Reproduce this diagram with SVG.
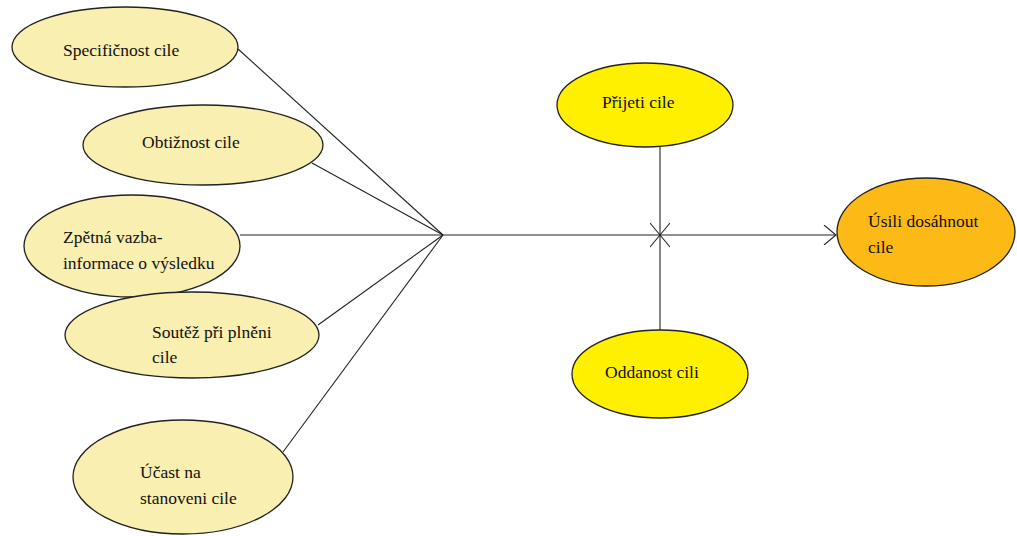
<svg xmlns="http://www.w3.org/2000/svg" width="1017" height="536" viewBox="0 0 1017 536">
<style>
.n ellipse{stroke:#222;stroke-width:1.3}
.pale{fill:#f9efb0}
.yel{fill:#fff000}
.org{fill:#fdb916}
text{font-family:"Liberation Serif","Times New Roman",serif;font-size:17.5px;fill:#111}
.c line{stroke:#222;stroke-width:1.1;fill:none}
</style>
<defs>
<marker id="open" viewBox="0 0 20 20" refX="14" refY="10" markerWidth="20" markerHeight="20" markerUnits="userSpaceOnUse" orient="auto">
<path d="M2,0 L14,10 L2,20" fill="none" stroke="#222" stroke-width="1.1"/>
</marker>
</defs>
<rect width="1017" height="536" fill="#fff"/>
<g class="c" id="connectors">
<line x1="238" y1="49" x2="443" y2="235"/>
<line x1="312" y1="163" x2="443" y2="235"/>
<line x1="240" y1="235" x2="443" y2="235"/>
<line x1="318" y1="325" x2="443" y2="235"/>
<line x1="283" y1="452" x2="443" y2="235"/>
<line x1="443" y1="235" x2="836" y2="235" marker-end="url(#open)"/>
<line x1="660" y1="146" x2="660" y2="235" marker-end="url(#open)"/>
<line x1="660" y1="330" x2="660" y2="235" marker-end="url(#open)"/>
</g>
<g class="n" id="specificnost">
<ellipse class="pale" cx="125" cy="47" rx="113" ry="40"/>
<text x="63" y="56">Specifičnost cile</text>
</g>
<g class="n" id="obtiznost">
<ellipse class="pale" cx="203" cy="145" rx="120" ry="40"/>
<text x="142" y="148">Obtižnost cile</text>
</g>
<g class="n" id="zpetna">
<ellipse class="pale" cx="132" cy="246" rx="108" ry="51"/>
<text x="63" y="243">Zpětná vazba-</text>
<text x="63" y="269">informace o výsledku</text>
</g>
<g class="n" id="soutez">
<ellipse class="pale" cx="192" cy="335" rx="127" ry="43"/>
<text x="152" y="338">Soutěž při plněni</text>
<text x="152" y="363">cile</text>
</g>
<g class="n" id="ucast">
<ellipse class="pale" cx="183" cy="477" rx="110" ry="57"/>
<text x="140" y="478">Účast na</text>
<text x="140" y="504">stanoveni cile</text>
</g>
<g class="n" id="prijeti">
<ellipse class="yel" cx="645" cy="105" rx="88" ry="42"/>
<text x="602" y="108">Přijeti cile</text>
</g>
<g class="n" id="oddanost">
<ellipse class="yel" cx="660" cy="374" rx="88" ry="44"/>
<text x="605" y="378">Oddanost cili</text>
</g>
<g class="n" id="usili">
<ellipse class="org" cx="926" cy="232" rx="89" ry="54"/>
<text x="868" y="227">Úsili dosáhnout</text>
<text x="868" y="253">cile</text>
</g>
</svg>
